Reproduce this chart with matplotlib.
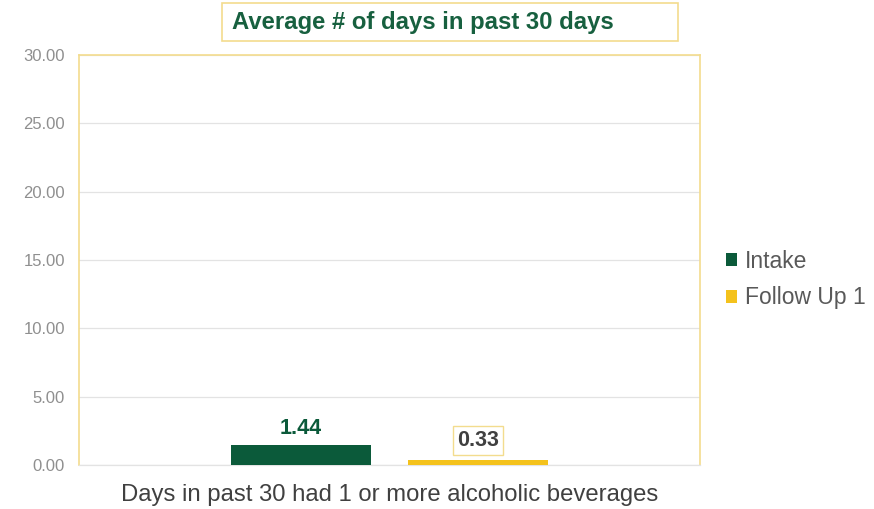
import matplotlib.pyplot as plt
from matplotlib.patches import Rectangle

series = ['Intake', 'Follow Up 1']
values = [1.44, 0.33]
category = 'Days in past 30 had 1 or more alcoholic beverages'
y_ticks = [0, 5, 10, 15, 20, 25, 30]

colors = ['#0b5a3a', '#f4c21c']
frame_color = '#f3dc8e'

plt.rcParams['font.family'] = ['Liberation Sans', 'DejaVu Sans']

fig = plt.figure(figsize=(8.74, 5.09), dpi=100)
ax = fig.add_axes([79 / 874, 44 / 509, 621 / 874, 410 / 509])

offsets = [-0.1425, 0.1425]
width = 0.2254
for off, val, col, name in zip(offsets, values, colors, series):
    ax.bar(off, val, width=width, color=col, label=name, zorder=3)

ax.set_xlim(-0.5, 0.5)
ax.set_ylim(0, 30)
ax.set_yticks(y_ticks)
ax.set_yticklabels([f'{v:.2f}' for v in y_ticks], fontsize=12, color='#8f8f8f')
ax.set_xticks([0])
ax.set_xticklabels([category], fontsize=17.2, color='#404040')
ax.tick_params(axis='both', length=0)
ax.tick_params(axis='y', pad=10)
ax.tick_params(axis='x', pad=14)
ax.grid(axis='y', color='#e3e3e3', linewidth=0.9, zorder=0)

for side in ['left', 'top', 'right']:
    ax.spines[side].set_color(frame_color)
    ax.spines[side].set_linewidth(1.2)
ax.spines['bottom'].set_color('#e3e3e3')
ax.spines['bottom'].set_linewidth(0.9)

# value labels
ax.text(offsets[0], values[0] + 1.25, f'{values[0]:.2f}', ha='center', va='center',
        fontsize=15.5, fontweight='bold', color=colors[0])
ax.text(offsets[1], values[1] + 1.45, f'{values[1]:.2f}', ha='center', va='center',
        fontsize=15.5, fontweight='bold', color='#404040',
        bbox=dict(boxstyle='square,pad=0.2', facecolor='white', edgecolor=frame_color, linewidth=1))

# title box
fig.add_artist(Rectangle((222 / 874, 1 - 41 / 509), 456 / 874, 38 / 509, transform=fig.transFigure,
                         facecolor='white', edgecolor=frame_color, linewidth=1.2))
fig.text(232 / 874, 1 - 22 / 509, 'Average # of days in past 30 days', ha='left', va='center',
         fontsize=17.2, fontweight='bold', color='#17603f')

fig.legend(loc='upper left', bbox_to_anchor=(705 / 874, 1 - 229 / 509), frameon=False,
           fontsize=16.5, handlelength=0.5, handleheight=0.5, handletextpad=0.35,
           labelspacing=0.6, labelcolor='#595959')

fig.savefig('out.png', dpi=100)
